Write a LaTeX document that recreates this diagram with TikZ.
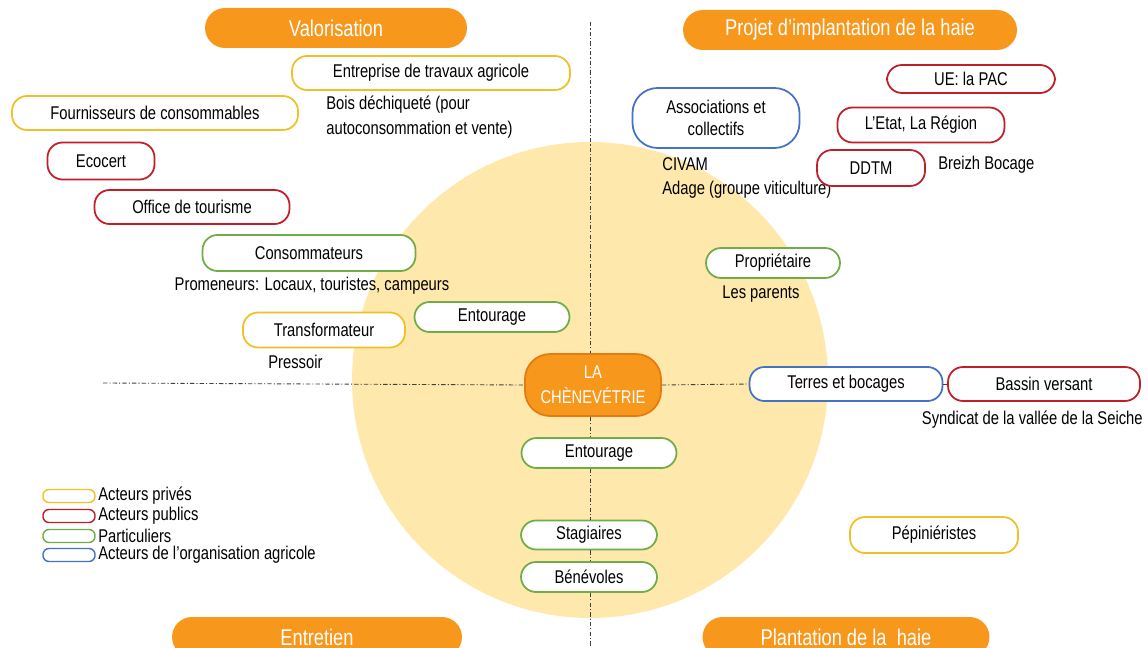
\documentclass[tikz,border=0pt]{standalone}
\usepackage{fontspec}
\setmainfont{Liberation Sans}[FakeStretch=0.8]
\usepackage{tikz}
\usetikzlibrary{arrows.meta}

\definecolor{orangeF}{RGB}{247,152,29}
\definecolor{orangeD}{RGB}{228,122,18}
\definecolor{disc}{RGB}{254,232,172}
\definecolor{gold}{RGB}{240,192,40}
\definecolor{redA}{RGB}{192,30,40}
\definecolor{greenA}{RGB}{112,173,71}
\definecolor{blueA}{RGB}{68,114,196}

\begin{document}
\begin{tikzpicture}[x=0.02cm,y=-0.02cm,font=\fontsize{10.5}{12.6}\selectfont]
	\def \pillht{0.68cm}
	\def \discr{4.76cm}
	\tikzstyle{pill}=[rectangle,rounded corners=0.3cm,fill=white,line width=1pt,inner sep=0pt,minimum height=\pillht]
	\tikzstyle{prive}=[pill,draw=gold]
	\tikzstyle{public}=[pill,draw=redA]
	\tikzstyle{partic}=[pill,draw=greenA]
	\tikzstyle{orga}=[pill,draw=blueA]
	\tikzstyle{head}=[rectangle,rounded corners=0.4cm,fill=orangeF,text=white,inner sep=0pt,minimum height=0.8cm,font=\fontsize{13}{15}\selectfont]
	\tikzstyle{key}=[rectangle,rounded corners=0.12cm,fill=white,line width=0.8pt,inner sep=0pt,minimum width=1.04cm,minimum height=0.26cm]
	\tikzstyle{annot}=[inner sep=0pt,align=left]
	\tikzstyle{axis}=[draw=black!75,line width=0.5pt,dash pattern=on 2.5pt off 1.2pt on 0.6pt off 1.2pt]

	\fill[white] (0,0) rectangle (1148,648);
	\clip (0,0) rectangle (1148,648);
	\fill[disc] (590,380) circle (\discr);

	\coordinate (vtop)	at (590,22);
	\coordinate (vbot)	at (590,648);
	\coordinate (hleft)	at (103,383);

	% titles
	\node[head,minimum width=5.24cm]	(valo)		at (336,28)	{Valorisation};
	\node[head,minimum width=6.68cm]	(projet)	at (850,30)	{Projet d'implantation de la haie};
	\node[head,minimum width=5.8cm]		(entretien)	at (317,637)	{Entretien};
	\node[head,minimum width=5.74cm]	(plantation)	at (846,637)	{Plantation de la\ \ haie};

	% centre
	\node[rectangle,rounded corners=0.5cm,fill=orangeF,draw=orangeD,line width=1pt,text=white,align=center,
		minimum width=2.72cm,minimum height=1.24cm,inner sep=0pt,font=\fontsize{10.5}{14}\selectfont]
		(centre)	at (593,385)	{LA\\CHÈNEVÉTRIE};

	% valorisation
	\node[prive,minimum width=5.56cm]	(entreprise)	at (431,73)	{Entreprise de travaux agricole};
	\node[annot,anchor=west]		(bois)		at (326,117)	{Bois déchiqueté (pour\\[1.5pt]autoconsommation et vente)};
	\node[prive,minimum width=5.72cm]	(fourn)		at (155,113)	{Fournisseurs de consommables};
	\node[public,minimum width=2.14cm,minimum height=0.74cm]	(ecocert)	at (101,161)	{Ecocert};
	\node[public,minimum width=3.9cm]	(office)	at (192,207)	{Office de tourisme};
	\node[partic,minimum width=4.26cm,minimum height=0.72cm]	(conso)	at (309,253)	{Consommateurs};
	\node[annot]				(promeneurs)	at (312,286)	{Promeneurs: Locaux, touristes, campeurs};
	\node[prive,minimum width=3.24cm,minimum height=0.7cm]	(transfo)	at (324,330)	{Transformateur};
	\node[annot,anchor=west]		(pressoir)	at (268,362)	{Pressoir};
	\node[partic,minimum width=3.1cm,minimum height=0.6cm]	(entourageA)	at (492,317)	{Entourage};

	% projet
	\node[orga,rounded corners=0.5cm,minimum width=3.34cm,minimum height=1.2cm,align=center]	(assoc)	at (716,118)	{Associations et\\collectifs};
	\node[annot,anchor=west]		(civam)		at (662,178)	{CIVAM\\[1.5pt]Adage (groupe viticulture)};
	\node[public,minimum width=3.36cm,minimum height=0.56cm]	(ue)	at (971,79)	{UE: la PAC};
	\node[public,minimum width=3.34cm,minimum height=0.7cm]	(etat)	at (921,125)	{L'Etat, La Région};
	\node[public,minimum width=2.16cm,minimum height=0.72cm]	(ddtm)	at (871,168)	{DDTM};
	\node[annot,anchor=west]		(breizh)	at (938,165)	{Breizh Bocage};
	\node[partic,minimum width=2.68cm,minimum height=0.6cm]	(proprio)	at (773,263)	{Propriétaire};
	\node[annot,anchor=west]		(parents)	at (722,294)	{Les parents};
	\node[orga,minimum width=3.86cm]	(terres)	at (846,384)	{Terres et bocages};
	\node[public,minimum width=3.84cm]	(bassin)	at (1044,384)	{Bassin versant};
	\node[annot,anchor=east]		(syndicat)	at (1143,420)	{Syndicat de la vallée de la Seiche};

	% entretien / plantation
	\node[partic,minimum width=3.1cm,minimum height=0.6cm]	(entourageB)	at (599,453)	{Entourage};
	\node[partic,minimum width=2.72cm,minimum height=0.58cm]	(stagiaires)	at (589,535)	{Stagiaires};
	\node[partic,minimum width=2.72cm,minimum height=0.6cm]	(benevoles)	at (589,577)	{Bénévoles};
	\node[prive,minimum width=3.36cm,minimum height=0.72cm]	(pepin)	at (934,535)	{Pépiniéristes};

	% legend
	\node[key,draw=gold]	(k1)	at (69,496)	{};
	\node[key,draw=redA]	(k2)	at (69,516)	{};
	\node[key,draw=greenA]	(k3)	at (69,536)	{};
	\node[key,draw=blueA]	(k4)	at (69,555)	{};
	\node[annot,anchor=west]	(l1)	at (98,496)	{Acteurs privés};
	\node[annot,anchor=west]	(l2)	at (98,516)	{Acteurs publics};
	\node[annot,anchor=west]	(l3)	at (98,536)	{Particuliers};
	\node[annot,anchor=west]	(l4)	at (98,555)	{Acteurs de l'organisation agricole};

	% axes
	\draw[axis] (vtop) -- (vtop |- centre.north);
	\draw[axis] (vtop |- centre.south) -- (vtop |- entourageB.north);
	\draw[axis] (vtop |- entourageB.south) -- (vtop |- stagiaires.north);
	\draw[axis] (vtop |- stagiaires.south) -- (vtop |- benevoles.north);
	\draw[axis] (vtop |- benevoles.south) -- (vbot);
	\draw[axis] (hleft) -- (centre.west);
	\draw[axis] (centre.east) -- (terres.west);
	\draw[axis] (terres.east) -- (bassin.west);
\end{tikzpicture}
\end{document}
